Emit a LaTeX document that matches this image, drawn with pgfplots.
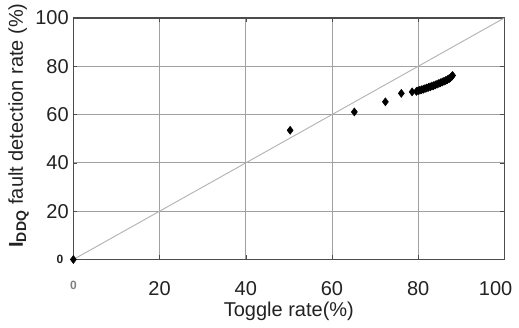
\documentclass[border=0pt]{standalone}
\usepackage{fontspec}
\setmainfont{Liberation Sans}
\usepackage{pgfplots}
\pgfplotsset{compat=1.18}
\definecolor{gridc}{HTML}{A0A0A0}
\definecolor{txt}{HTML}{222222}
\begin{document}
\begin{tikzpicture}
\useasboundingbox (-55pt,-51pt) rectangle (334pt,194.5pt);
\begin{axis}[
  at={(0,0)}, anchor=south west,
  scale only axis,
  width=323pt, height=181pt,
  xmin=0, xmax=100, ymin=0, ymax=100,
  xtick={20,40,60,80,100},
  xticklabels={20,40,60,80,{\makebox[0pt][c]{\hspace*{-13pt}100}}},
  ytick={20,40,60,80,100},
  extra x ticks={0}, extra y ticks={0},
  extra x tick style={tick label style={font=\fontsize{9}{10}\selectfont\bfseries, text=gray, yshift=0pt}, grid=none},
  extra y tick style={tick label style={font=\fontsize{9}{10}\selectfont\bfseries, text=txt, xshift=-4pt}, grid=none},
  grid=major,
  major grid style={gridc, line width=0.6pt},
  axis line style={black!70, line width=0.8pt},
  tick style={black!70},
  tick align=inside,
  major tick length=3pt,
  /pgf/number format/assume math mode=true,
  tick label style={font=\fontsize{15}{17}\selectfont, text=txt},
  xticklabel style={yshift=-13pt},
  xlabel={Toggle rate(\%)},
  ylabel={\textbf{I\textsubscript{DDQ}} fault detection rate (\%)},
  label style={font=\fontsize{15}{17}\selectfont, text=txt},
  xlabel style={yshift=2pt},
  ylabel style={at={(ticklabel cs:0.555)}, yshift=-2pt},
  clip=false,
]
\addplot[gridc!80, line width=0.7pt, forget plot] coordinates {(0,0) (100,100)};
\addplot[only marks, mark=diamond*, mark size=3pt, black] coordinates {
(0,0) (50.3,53.5) (65.2,61.1) (72.4,65.3) (76.1,68.8) (78.6,69.4)
(79.6,69.6) (80.0,69.9) (80.4,70.1) (80.8,70.3) (81.2,70.5) (81.6,70.8)
(82.0,71.0) (82.4,71.3) (82.8,71.5) (83.2,71.8) (83.6,72.0) (84.0,72.3)
(84.4,72.6) (84.8,72.9) (85.2,73.2) (85.6,73.5) (86.0,73.8) (86.4,74.1)
(86.8,74.5) (87.2,74.9) (87.5,75.3) (87.8,75.8) (88.0,76.2)
};
\end{axis}
\end{tikzpicture}
\end{document}
